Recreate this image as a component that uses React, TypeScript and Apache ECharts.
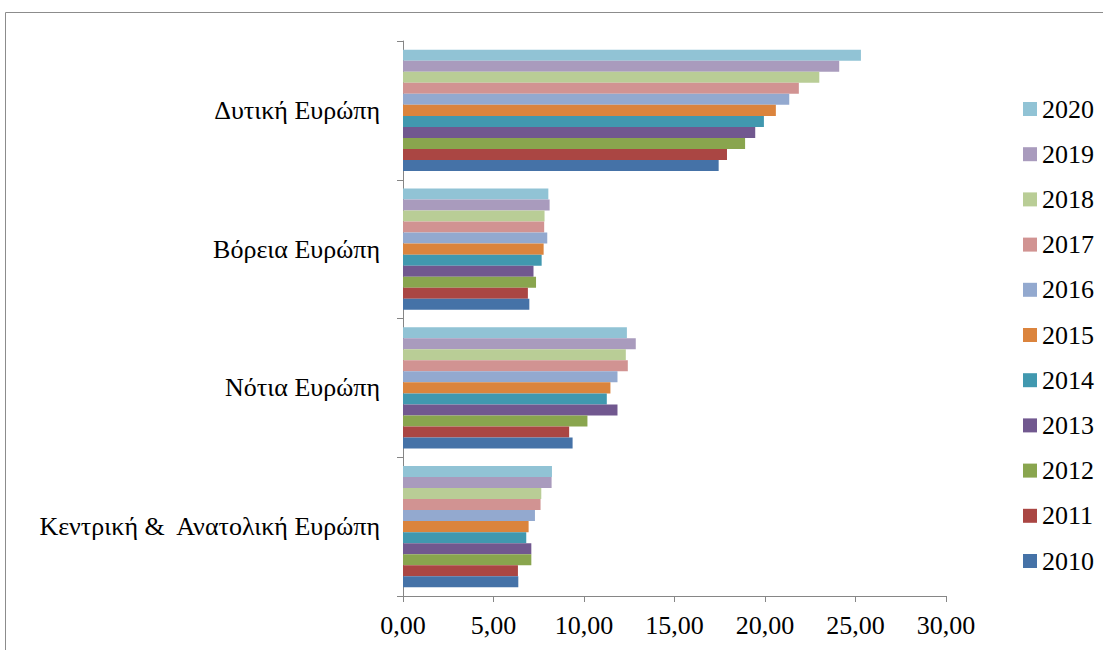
import React, { useEffect, useRef } from "react";
import * as echarts from "echarts";

// Regions, listed bottom to top as the category axis draws them
const regions = [
  "Κεντρική &  Ανατολική Ευρώπη",
  "Νότια Ευρώπη",
  "Βόρεια Ευρώπη",
  "Δυτική Ευρώπη",
];

// Values per year, in the same order as `regions`
const y2010 = [6.37, 9.37, 6.98, 17.44];
const y2011 = [6.35, 9.18, 6.9, 17.9];
const y2012 = [7.09, 10.19, 7.35, 18.9];
const y2013 = [7.09, 11.85, 7.21, 19.46];
const y2014 = [6.81, 11.26, 7.66, 19.94];
const y2015 = [6.94, 11.46, 7.77, 20.6];
const y2016 = [7.29, 11.85, 7.97, 21.34];
const y2017 = [7.6, 12.42, 7.8, 21.87];
const y2018 = [7.64, 12.31, 7.82, 23.0];
const y2019 = [8.21, 12.86, 8.1, 24.1];
const y2020 = [8.23, 12.37, 8.03, 25.3];

const years = ["2020", "2019", "2018", "2017", "2016", "2015", "2014", "2013", "2012", "2011", "2010"];
const yearValues = [y2020, y2019, y2018, y2017, y2016, y2015, y2014, y2013, y2012, y2011, y2010];
const yearColors = [
  "#91C3D5", "#A99BBD", "#B9CD96", "#D19392", "#93A9CF", "#DB843D",
  "#4198AF", "#71588F", "#89A54E", "#AA4643", "#4572A7",
];

const xTicks = { min: 0, max: 30, interval: 5 };

const FONT = "Liberation Serif";
const AXIS_GRAY = "#868686";

export default function App() {
  const ref = useRef<HTMLDivElement>(null);

  useEffect(() => {
    if (!ref.current) return;
    const chart = echarts.init(ref.current, undefined, { renderer: "svg" });

    const series = years.map((y, i) => ({
      name: y,
      type: "bar" as const,
      data: yearValues[i],
      itemStyle: { color: yearColors[i] },
      barGap: "0%",
      barCategoryGap: "12.6%",
    }));

    chart.setOption({
      animation: false,
      backgroundColor: "#ffffff",
      textStyle: { fontFamily: FONT },
      graphic: [
        {
          type: "rect",
          shape: { x: 5.5, y: 12.5, width: 1200, height: 800 },
          style: { fill: "none", stroke: "#8c8c8c", lineWidth: 1 },
          silent: true,
        },
      ],
      grid: { left: 403, top: 41, width: 543, height: 555, containLabel: false },
      legend: {
        orient: "vertical",
        left: 1018,
        top: 91,
        icon: "rect",
        itemWidth: 14,
        itemHeight: 14,
        itemGap: 19.2,
        data: years,
        textStyle: { fontFamily: FONT, fontSize: 26, color: "#000", lineHeight: 26 },
      },
      xAxis: {
        type: "value",
        min: xTicks.min,
        max: xTicks.max,
        interval: xTicks.interval,
        splitLine: { show: false },
        axisLine: { show: true, lineStyle: { color: AXIS_GRAY, width: 1 } },
        axisTick: { show: true, length: 6, lineStyle: { color: AXIS_GRAY } },
        axisLabel: {
          color: "#000",
          fontFamily: FONT,
          fontSize: 26,
          margin: 16,
          formatter: (v: number) => v.toFixed(2).replace(".", ","),
        },
      },
      yAxis: {
        type: "category",
        data: regions,
        axisLine: { show: true, lineStyle: { color: AXIS_GRAY, width: 1 } },
        axisTick: { show: true, length: 6, lineStyle: { color: AXIS_GRAY } },
        axisLabel: { color: "#000", fontFamily: FONT, fontSize: 26, margin: 23 },
      },
      series,
    });

    return () => chart.dispose();
  }, []);

  return (
    <div
      ref={ref}
      style={{ position: "fixed", left: 0, top: 0, width: 1103, height: 650, background: "#fff" }}
    />
  );
}
